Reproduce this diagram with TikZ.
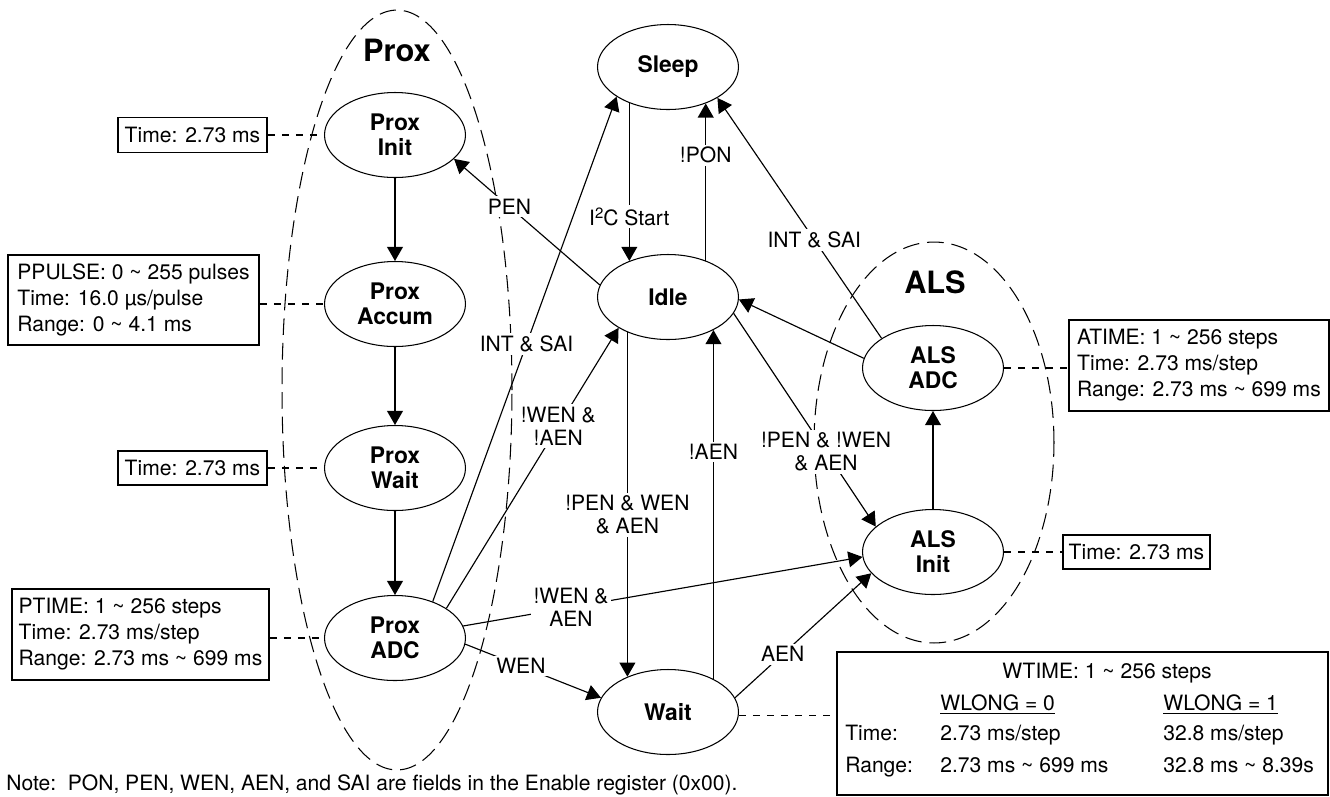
\documentclass[tikz,border=0pt]{standalone}
\usepackage{fontspec}
\setmainfont{TeX Gyre Heros}
\usetikzlibrary{shapes.geometric,arrows.meta}
\begin{document}
\begin{tikzpicture}[x=0.02cm,y=-0.02cm,
  state/.style={ellipse,draw,line width=0.6pt,minimum width=2.82cm,minimum height=1.7cm,inner sep=0pt,align=center,font=\fontsize{13pt}{14.2pt}\selectfont\bfseries},
  infobox/.style={draw,line width=1pt,align=left,inner sep=0pt,font=\fontsize{12pt}{14.8pt}\selectfont},
  lbl/.style={fill=white,inner sep=1.5pt,align=center,font=\fontsize{12pt}{13pt}\selectfont},
  txt/.style={inner sep=0pt,font=\fontsize{12pt}{14.8pt}\selectfont},
  arr/.style={line width=0.65pt,-{Triangle[length=8pt,width=9pt]}},
  link/.style={line width=0.6pt,dash pattern=on 4pt off 4pt},
  group/.style={line width=0.6pt,dash pattern=on 9.5pt off 4.5pt},
  grouptitle/.style={font=\fontsize{17.5pt}{20pt}\selectfont\bfseries}
]
\useasboundingbox (0,0) rectangle (1330,796);
\clip (0,0) rectangle (1330,796);

% groups
\draw[group] (397,390) ellipse [x radius=2.3cm, y radius=7.6cm];
\draw[group] (934,442.5) ellipse [x radius=2.4cm, y radius=4.01cm];
\node[grouptitle] (proxtitle) at (397,50) {Prox};
\node[grouptitle] (alstitle) at (935,282) {ALS};

% states
\node[state] (sleep) at (668,67) {Sleep};
\node[state] (idle) at (668,297) {Idle};
\node[state] (wait) at (668,712) {Wait};
\node[state] (pinit) at (395,135) {Prox\\Init};
\node[state] (paccum) at (395,304) {Prox\\Accum};
\node[state] (pwait) at (395,468) {Prox\\Wait};
\node[state] (padc) at (395,638) {Prox\\ADC};
\node[state] (aadc) at (933,368) {ALS\\ADC};
\node[state] (ainit) at (933,552) {ALS\\Init};

% info boxes
\node[infobox,minimum width=2.98cm,minimum height=0.7cm] (b1) at (192.5,135) {Time: 2.73 ms};
\node[infobox,minimum width=5.02cm,minimum height=1.8cm] (bpp) at (133.5,300) {PPULSE: 0 \textasciitilde{} 255 pulses\\Time: 16.0 µs/pulse\\Range: 0 \textasciitilde{} 4.1 ms};
\node[infobox,minimum width=2.98cm,minimum height=0.68cm] (b3) at (192.5,468) {Time: 2.73 ms};
\node[infobox,minimum width=5.14cm,minimum height=1.82cm] (bpt) at (140.5,634.5) {PTIME: 1 \textasciitilde{} 256 steps\\Time: 2.73 ms/step\\Range: 2.73 ms \textasciitilde{} 699 ms};
\node[infobox,minimum width=5.2cm,minimum height=1.82cm] (bat) at (1199,365.5) {ATIME: 1 \textasciitilde{} 256 steps\\Time: 2.73 ms/step\\Range: 2.73 ms \textasciitilde{} 699 ms};
\node[infobox,minimum width=2.94cm,minimum height=0.68cm] (b6) at (1136.5,552) {Time: 2.73 ms};
\node[draw,line width=1pt,minimum width=9.82cm,minimum height=2.86cm,inner sep=0pt] (bw) at (1082.5,723.5) {};
\node[txt,anchor=base] (wt) at (1107,678.5) {WTIME: 1 \textasciitilde{} 256 steps};
\node[txt,anchor=base west] (wl0) at (940,710.5) {\underline{WLONG = 0}};
\node[txt,anchor=base west] (wl1) at (1163,710.5) {\underline{WLONG = 1}};
\node[txt,anchor=base west] (wtl) at (845,740.5) {Time:};
\node[txt,anchor=base west] (wt0) at (940,740.5) {2.73 ms/step};
\node[txt,anchor=base west] (wt1) at (1163,740.5) {32.8 ms/step};
\node[txt,anchor=base west] (wrl) at (845,772.5) {Range:};
\node[txt,anchor=base west] (wr0) at (940,772.5) {2.73 ms \textasciitilde{} 699 ms};
\node[txt,anchor=base west] (wr1) at (1163,772.5) {32.8 ms \textasciitilde{} 8.39s};

% dashed links
\draw[link] (b1.east) -- (pinit.west);
\draw[link] (bpp.east |- paccum.west) -- (paccum.west);
\draw[link] (b3.east) -- (pwait.west);
\draw[link] (bpt.east |- padc.west) -- (padc.west);
\draw[link] (aadc.east) -- (bat.west |- aadc.east);
\draw[link] (ainit.east) -- (b6.west);
\draw[link] (wait.-3) -- (wait.-3 -| bw.west);

% transitions
\draw[arr] (pinit) -- (paccum);
\draw[arr] (paccum) -- (pwait);
\draw[arr] (pwait) -- (padc);
\draw[arr] (ainit) -- (aadc);
\draw[arr] (sleep.223) -- node[lbl,pos=0.72]{I\raisebox{0.6ex}{\fontsize{8.5pt}{9pt}\selectfont 2}C Start} (idle.137);
\draw[arr] (idle.44) -- node[lbl,pos=0.67]{!PON} (sleep.316);
\draw[arr] (idle.221) -- node[lbl,pos=0.53]{!PEN \& WEN\\\& AEN} (wait.139);
\draw[arr] (wait.36) -- node[lbl,pos=0.65]{!AEN} (idle.324);
\draw[arr] (idle.170) -- node[lbl,pos=0.62]{PEN} (pinit.338);
\draw[arr] (padc.44) -- node[lbl,pos=0.51]{INT \& SAI} (sleep.210);
\draw[arr] (padc.30) -- node[lbl,pos=0.65]{!WEN \&\\!AEN} (idle.212);
\draw[arr] (padc.10) -- node[lbl,pos=0.27]{!WEN \&\\AEN} (ainit.184);
\draw[arr] (padc.-5) -- node[lbl,pos=0.41]{WEN} (wait.168);
\draw[arr] (wait.12) -- node[lbl,pos=0.35]{AEN} (ainit.199);
\draw[arr] (idle.-14) -- node[lbl,pos=0.65]{!PEN \& !WEN\\\& AEN} (ainit.156);
\draw[arr] (aadc.172) -- (idle.-2);
\draw[arr] (aadc.150) -- node[lbl,pos=0.41]{INT \& SAI} (sleep.-32);

% note
\node[txt,anchor=base west] (note) at (6,790) {Note:\ \ PON, PEN, WEN, AEN, and SAI are fields in the Enable register (0x00).};
\end{tikzpicture}
\end{document}
